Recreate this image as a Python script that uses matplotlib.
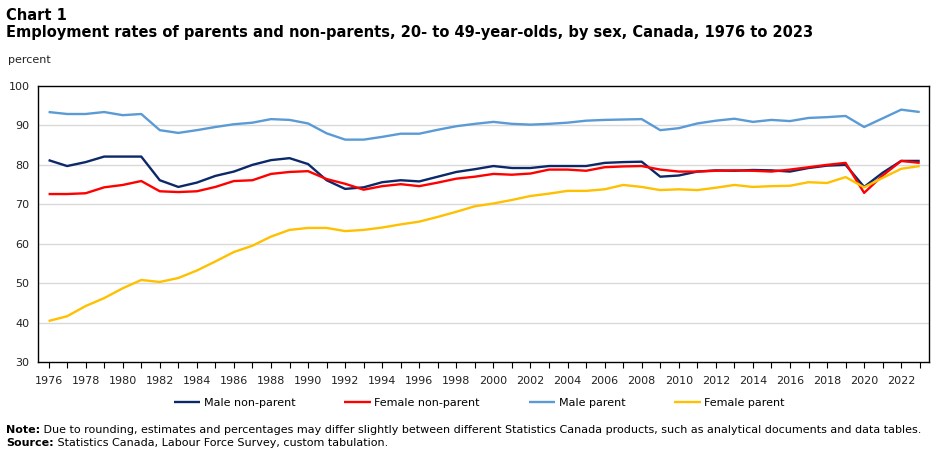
import matplotlib
matplotlib.use("Agg")
import matplotlib.pyplot as plt
import numpy as np

# data
years = list(range(1976, 2024))

male_non_parent = [81.2, 79.7, 80.7, 82.1, 82.1, 82.1, 76.1, 74.4, 75.5, 77.2,
                   78.3, 80.0, 81.2, 81.7, 80.2, 76.1, 73.9, 74.3, 75.6, 76.1,
                   75.8, 77.0, 78.2, 78.9, 79.7, 79.2, 79.2, 79.7, 79.7, 79.7,
                   80.5, 80.7, 80.8, 77.0, 77.3, 78.3, 78.6, 78.5, 78.7, 78.6,
                   78.3, 79.2, 79.8, 80.0, 74.4, 78.0, 81.0, 81.0]

female_non_parent = [72.6, 72.6, 72.8, 74.3, 74.9, 75.9, 73.3, 73.1, 73.3, 74.4,
                     75.9, 76.1, 77.7, 78.2, 78.4, 76.4, 75.2, 73.7, 74.6, 75.1,
                     74.6, 75.5, 76.5, 77.0, 77.7, 77.5, 77.8, 78.8, 78.8, 78.5,
                     79.4, 79.6, 79.7, 78.8, 78.3, 78.3, 78.5, 78.6, 78.5, 78.3,
                     78.8, 79.4, 80.0, 80.5, 72.9, 77.3, 81.0, 80.5]

male_parent = [93.4, 92.9, 92.9, 93.4, 92.6, 92.9, 88.8, 88.1, 88.8, 89.6,
               90.3, 90.7, 91.6, 91.4, 90.5, 88.0, 86.4, 86.4, 87.1, 87.9,
               87.9, 88.9, 89.8, 90.4, 90.9, 90.4, 90.2, 90.4, 90.7, 91.2,
               91.4, 91.5, 91.6, 88.8, 89.3, 90.5, 91.2, 91.7, 90.9, 91.4,
               91.1, 91.9, 92.1, 92.4, 89.6, 91.8, 94.0, 93.4]

female_parent = [40.4, 41.6, 44.2, 46.2, 48.7, 50.8, 50.3, 51.3, 53.2, 55.5,
                 57.9, 59.5, 61.8, 63.5, 64.0, 64.0, 63.2, 63.5, 64.1, 64.9,
                 65.6, 66.8, 68.1, 69.5, 70.2, 71.1, 72.1, 72.7, 73.4, 73.4,
                 73.8, 74.9, 74.4, 73.6, 73.8, 73.6, 74.2, 74.9, 74.4, 74.6,
                 74.7, 75.6, 75.4, 76.9, 74.3, 76.7, 79.0, 79.7]

series_names = ["Male non-parent", "Female non-parent", "Male parent", "Female parent"]
series_colors = ["#0c2868", "#ff0000", "#5b9bd5", "#ffc000"]

W, H = 945, 454
fig = plt.figure(figsize=(W / 100, H / 100), dpi=100)
ax = fig.add_axes([38 / W, 1 - 362 / H, (929 - 38) / W, (362 - 86) / H])

all_series = [male_non_parent, female_non_parent, male_parent, female_parent]
for vals, name, col in zip(all_series, series_names, series_colors):
    ax.plot(years, vals, color=col, lw=1.7, label=name, solid_capstyle="butt")

ax.set_xlim(1975.43, 2023.5)
ax.set_ylim(30, 100)
ax.set_yticks(np.arange(30, 101, 10))
ax.set_xticks(years, minor=True)
ax.set_xticks(list(range(1976, 2023, 2)))
ax.tick_params(axis="y", length=0, pad=6, labelsize=8, labelcolor="#222222")
ax.tick_params(axis="x", which="both", direction="out", length=4, width=0.8,
               pad=6, labelsize=8, labelcolor="#222222")

# light gridlines
for y in range(40, 100, 10):
    ax.axhline(y, color="#d9d9d9", lw=1, zorder=0)
for s in ax.spines.values():
    s.set_color("black")
    s.set_linewidth(1)

# titles
fig.text(6 / W, 1 - 15 / H, "Chart 1", fontsize=10.5, fontweight="bold",
         va="center", ha="left")
fig.text(6 / W, 1 - 33 / H,
         "Employment rates of parents and non-parents, 20- to 49-year-olds, by sex, Canada, 1976 to 2023",
         fontsize=10.5, fontweight="bold", va="center", ha="left")
fig.text(8 / W, 1 - 60 / H, "percent", fontsize=8, va="center", ha="left", color="#222222")

# legend
fig.legend(loc="center", bbox_to_anchor=(0.507, 1 - 403 / H), ncol=4, frameon=False,
           fontsize=8, handlelength=2.4, handletextpad=0.3, columnspacing=4.4)

# notes: bold label followed by regular text
note_b = fig.text(6 / W, 1 - 430 / H, "Note:", fontsize=8, fontweight="bold",
                  va="center", ha="left")
src_b = fig.text(6 / W, 1 - 443 / H, "Source:", fontsize=8, fontweight="bold",
                 va="center", ha="left")
ax.annotate(" Due to rounding, estimates and percentages may differ slightly between different Statistics Canada products, such as analytical documents and data tables.",
            xy=(1, 0.5), xycoords=note_b, fontsize=8, va="center", ha="left",
            annotation_clip=False)
ax.annotate(" Statistics Canada, Labour Force Survey, custom tabulation.",
            xy=(1, 0.5), xycoords=src_b, fontsize=8, va="center", ha="left",
            annotation_clip=False)

fig.savefig("out.png", dpi=100)
